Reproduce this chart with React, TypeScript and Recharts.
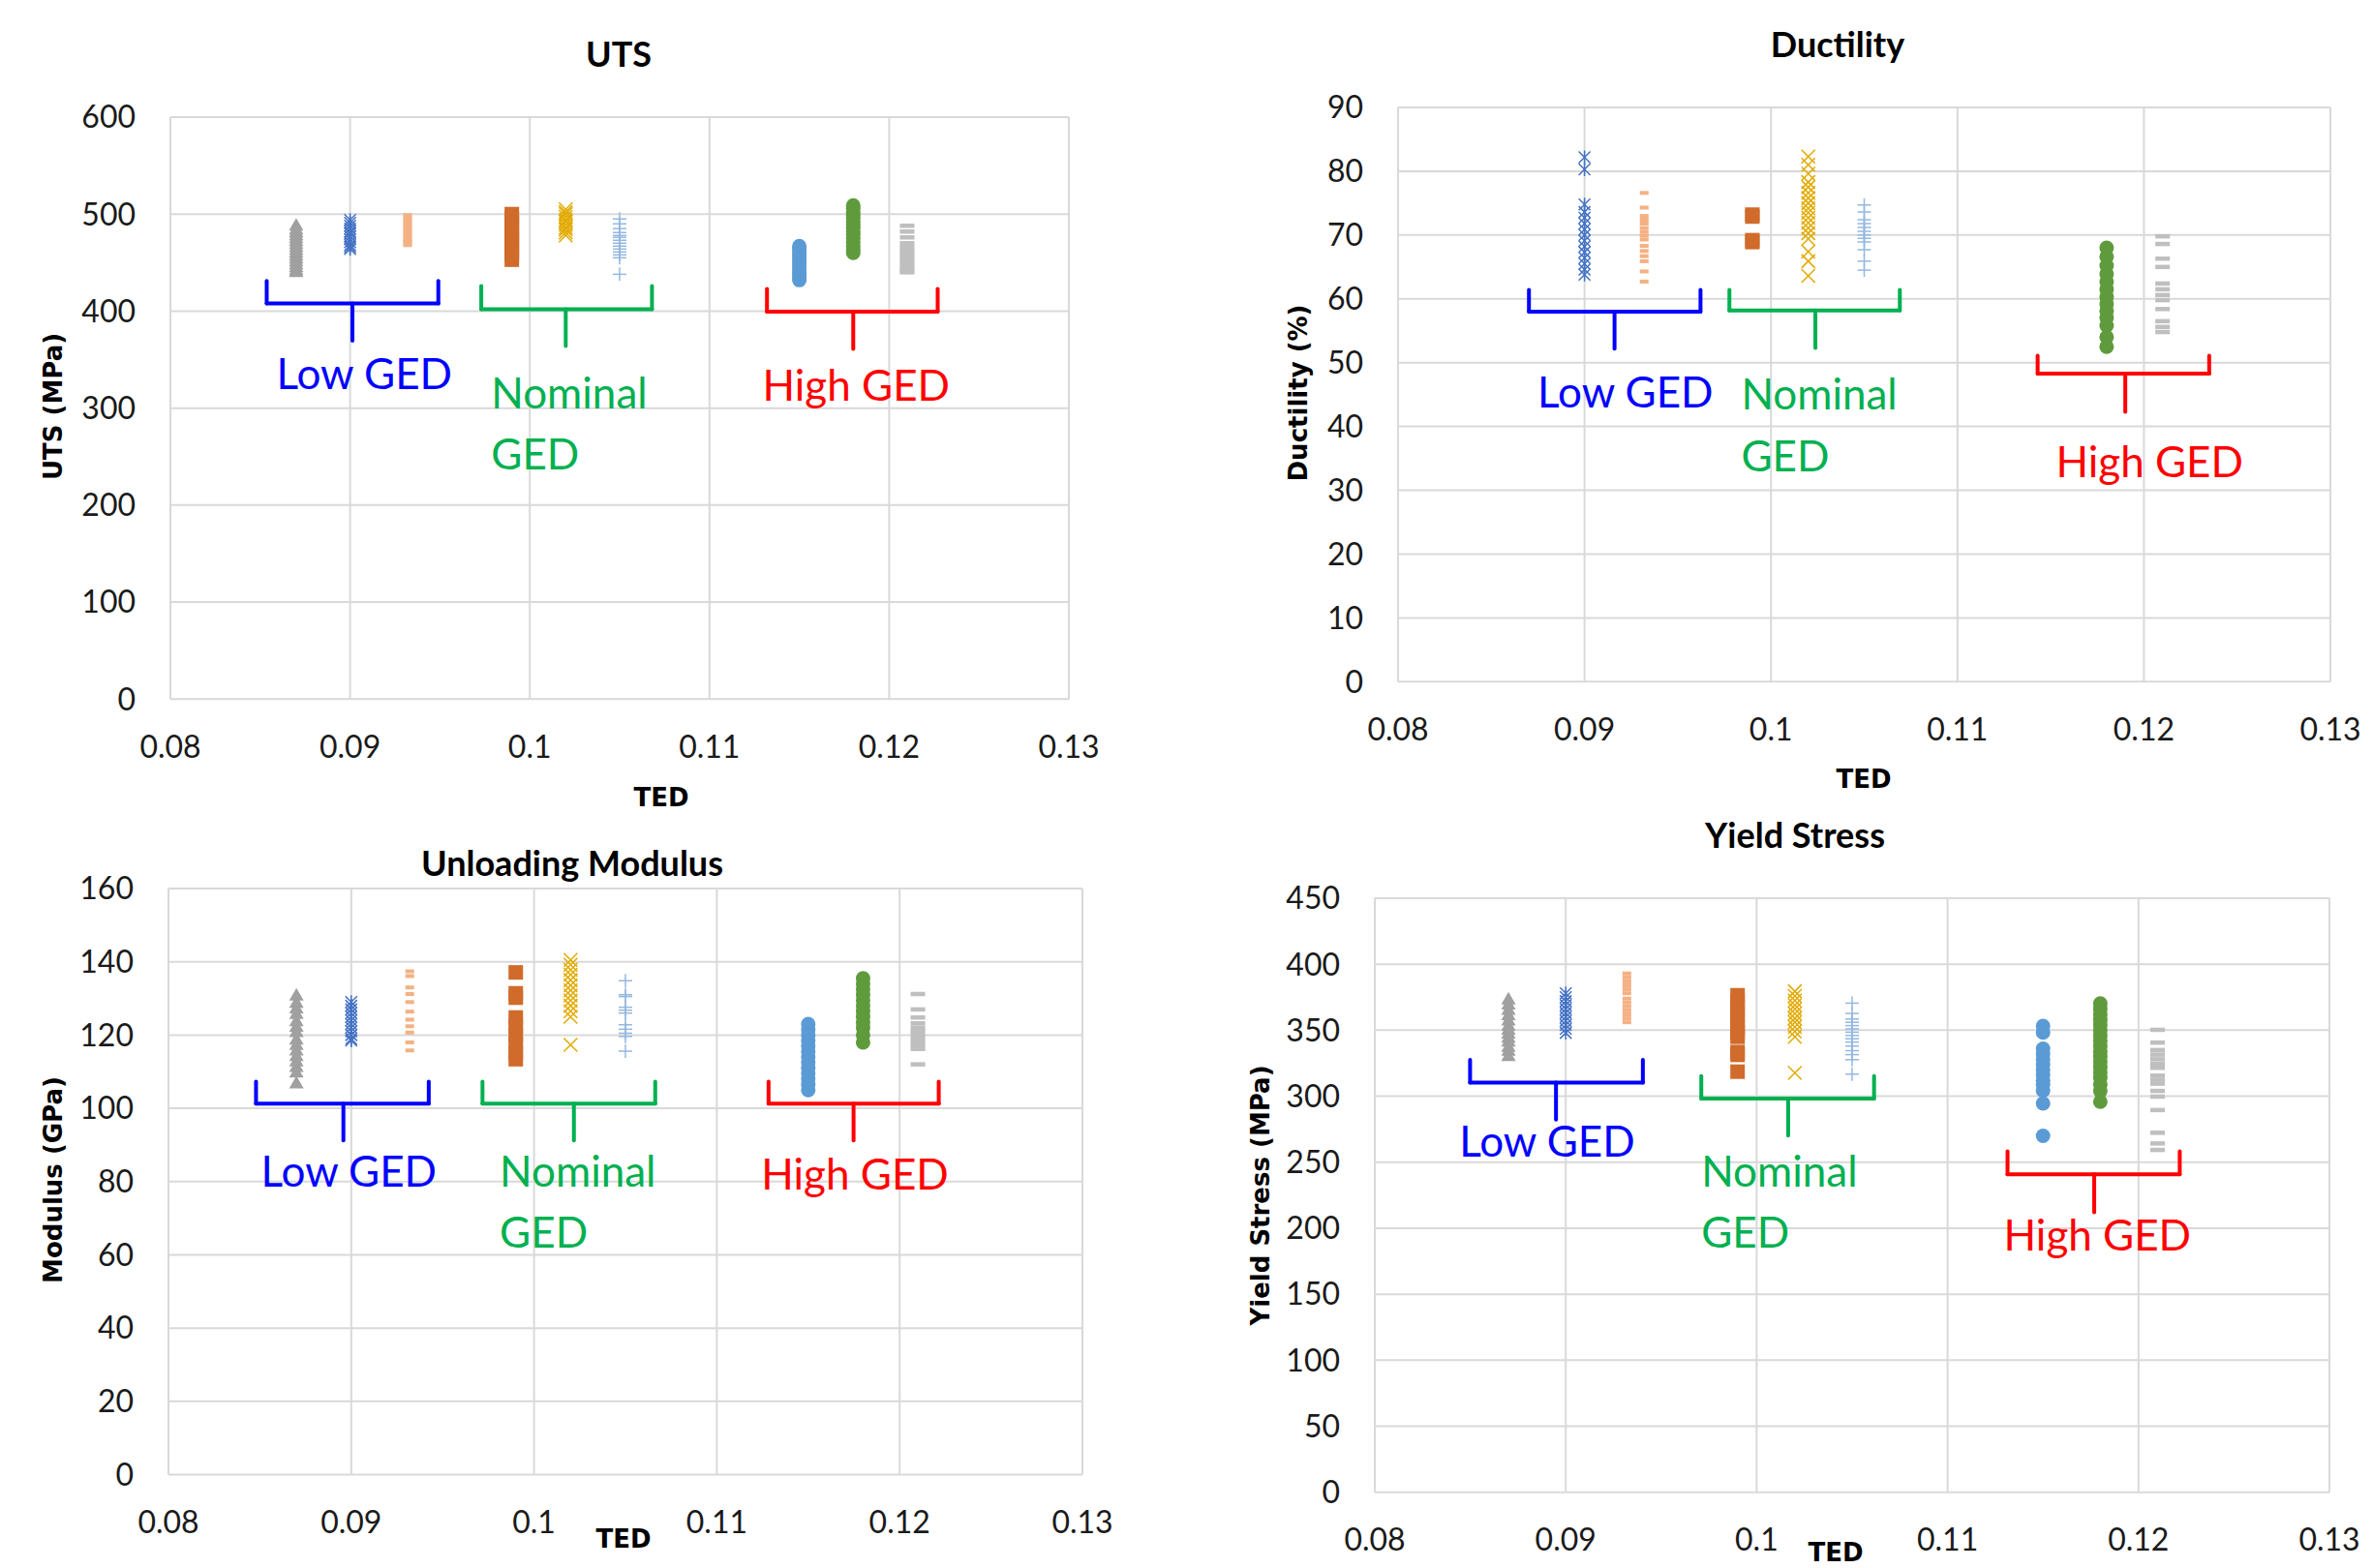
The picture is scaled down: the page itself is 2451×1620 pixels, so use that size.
import React from 'react';
import {
    ScatterChart,
    Scatter,
    XAxis,
    YAxis,
    CartesianGrid,
    ReferenceLine,
    ReferenceDot
} from 'recharts';

const X_TICKS = [0.08, 0.09, 0.1, 0.11, 0.12, 0.13];
// TED of each specimen column: low GED (3), nominal GED (3), high GED (3)
const SERIES_X = [0.087, 0.09, 0.0932, 0.099, 0.102, 0.105, 0.115, 0.118, 0.121];

// UTS (MPa)
const UTS_TICKS = [0, 100, 200, 300, 400, 500, 600];
const UTS_TRIANGLE = [489, 485, 482, 479, 476, 473, 470, 467, 464, 461, 458, 455, 452, 449, 446, 443, 441];
const UTS_STAR = [494, 491, 488, 485, 482, 480, 477, 474, 471, 468, 466, 464];
const UTS_SALMON = [499, 497, 494, 492, 489, 487, 484, 482, 479, 477, 474, 472, 470, 468];
const UTS_SQUARE = [500, 496, 491, 486, 481, 476, 472, 467, 462, 458, 453];
const UTS_GOLD = [505, 502, 500, 497, 494, 492, 489, 486, 484, 481, 478];
const UTS_PLUS = [495, 490, 485, 481, 478, 476, 473, 470, 467, 464, 461, 458, 455, 438];
const UTS_BLUE = [467, 464, 461, 458, 455, 452, 449, 446, 443, 440, 437, 434, 432];
const UTS_GREEN = [509, 506, 502, 499, 496, 492, 489, 486, 482, 479, 475, 471, 467, 463, 460];
const UTS_GRAY = [488, 482, 476, 470, 466, 463, 460, 457, 454, 451, 448, 445, 442, 440];

// Ductility (%)
const DUC_TICKS = [0, 10, 20, 30, 40, 50, 60, 70, 80, 90];
const DUC_STAR = [82.2, 80.3, 74.8, 73.6, 72.7, 71.8, 70.9, 70.0, 69.1, 68.2, 67.3, 66.4, 65.5, 64.6, 63.8];
const DUC_SALMON = [76.6, 74.3, 73.0, 72.4, 71.8, 71.1, 70.5, 69.9, 69.3, 68.3, 67.5, 66.7, 65.9, 64.3, 62.7];
const DUC_SQUARE = [73.2, 72.9, 69.2, 68.9];
const DUC_GOLD = [82.3, 81.0, 79.6, 78.3, 77.5, 76.6, 75.8, 75.0, 74.2, 73.5, 72.7, 71.9, 71.1, 70.3, 69.4, 67.4, 65.9, 63.6];
const DUC_PLUS = [74.7, 73.6, 72.4, 71.8, 71.2, 70.6, 70.0, 69.5, 68.9, 67.7, 65.9, 64.5];
const DUC_GREEN = [68.0, 66.6, 65.2, 63.9, 62.7, 61.5, 60.3, 59.2, 58.1, 57.0, 55.8, 54.0, 52.5];
const DUC_GRAY = [69.8, 68.6, 66.3, 65.0, 62.4, 61.5, 60.6, 59.8, 58.4, 56.5, 55.6, 54.8];

// Unloading modulus (GPa)
const MOD_TICKS = [0, 20, 40, 60, 80, 100, 120, 140, 160];
const MOD_TRIANGLE = [131, 129, 127.5, 126, 124, 122.5, 121, 119, 117.5, 116, 114.5, 113, 111.5, 110, 107];
const MOD_STAR = [129, 128, 127, 126, 125, 124, 123, 122, 121, 120, 119, 118.5];
const MOD_SALMON = [137.4, 136.1, 133, 131.2, 129, 126.4, 124.2, 122.4, 120.7, 118, 115.8];
const MOD_SQUARE = [137.1, 131.4, 130.2, 124.8, 122.4, 120.0, 117.6, 115.2, 113.4];
const MOD_GOLD = [140.5, 139.2, 137.8, 136.5, 135, 133.6, 132.2, 130.8, 129.4, 128, 126.5, 125, 117.3];
const MOD_PLUS = [134.8, 131.0, 130.5, 127.6, 126.8, 126.0, 122.8, 121.6, 120.5, 119.6, 115.6];
const MOD_BLUE = [123, 121.5, 120, 118.5, 117, 115.5, 114, 112.5, 111, 109.5, 108, 106.5, 105];
const MOD_GREEN = [135.5, 134, 132.5, 131, 129.5, 128, 126.5, 125, 123.5, 122, 120, 118];
const MOD_GRAY = [131.2, 127.0, 124.8, 123.2, 122.0, 121.0, 120.0, 119.0, 118.0, 117.0, 116.2, 112.0];

// Yield stress (MPa)
const YS_TICKS = [0, 50, 100, 150, 200, 250, 300, 350, 400, 450];
const YS_TRIANGLE = [374, 370, 366, 362, 358, 354, 351, 348, 345, 342, 338, 335, 331];
const YS_STAR = [378, 375, 372, 369, 366, 363, 360, 357, 354, 351, 348];
const YS_SALMON = [393, 390, 387, 384, 381, 378, 374, 371, 368, 365, 362, 359, 356];
const YS_SQUARE = [376.5, 372, 367, 362, 357, 352, 348, 345, 333.5, 331.3, 318.6];
const YS_GOLD = [379.5, 376, 372.5, 369, 366, 362.5, 359, 356, 352.5, 349, 345, 317.7];
const YS_PLUS = [370.5, 362.7, 358.5, 356, 353.5, 351, 348.5, 346, 343.5, 341, 338, 334.5, 331.5, 327.7, 316.7];
const YS_BLUE = [353.2, 348.3, 336, 332, 328, 324, 320, 316, 312, 309, 304.3, 294.5, 270];
const YS_GREEN = [370.3, 366, 362, 358, 354, 350, 346, 342, 338, 334, 330, 326, 322, 318, 314, 309, 304, 295.8];
const YS_GRAY = [350.3, 340.6, 335, 331.5, 328, 324.5, 321.5, 315.6, 312.5, 309.5, 304, 299.7, 289.5, 272.3, 264.2, 259.3];

// brace annotations: [left x, right x, stem x, tip y, bar y, stem end y]
const UTS_BRACES = [
    [0.08536, 0.09491, 0.09013, 431, 408, 369.5],
    [0.0973, 0.1068, 0.102, 426, 402, 364],
    [0.1132, 0.1227, 0.118, 423, 399.5, 361]
];
const DUC_BRACES = [
    [0.08702, 0.09622, 0.09161, 61.4, 58.0, 52.2],
    [0.09777, 0.10691, 0.10238, 61.4, 58.2, 52.3],
    [0.1143, 0.1235, 0.119, 51.1, 48.3, 42.3]
];
const MOD_BRACES = [
    [0.08479, 0.09424, 0.08957, 107.3, 101.3, 91.2],
    [0.09718, 0.10663, 0.10218, 107.3, 101.3, 91.2],
    [0.11283, 0.12214, 0.11748, 107.3, 101.3, 91.2]
];
const YS_BRACES = [
    [0.08499, 0.09404, 0.08949, 327.5, 310.4, 282.3],
    [0.0971, 0.10615, 0.10165, 315.3, 298.2, 270.1],
    [0.11314, 0.12216, 0.11768, 258.2, 240.9, 212.1]
];

// group labels: [text, group, left x, baseline y]
const UTS_LABELS = [
    ['Low GED', 0, 0.0859, 319.6],
    ['Nominal', 1, 0.09785, 299.6],
    ['GED', 1, 0.09785, 236.5],
    ['High GED', 2, 0.11295, 308]
];
const DUC_LABELS = [
    ['Low GED', 0, 0.08748, 43.0],
    ['Nominal', 1, 0.0984, 42.6],
    ['GED', 1, 0.0984, 33.0],
    ['High GED', 2, 0.11528, 32.1]
];
const MOD_LABELS = [
    ['Low GED', 0, 0.08506, 78.6],
    ['Nominal', 1, 0.09812, 78.6],
    ['GED', 1, 0.09812, 61.9],
    ['High GED', 2, 0.11243, 77.7]
];
const YS_LABELS = [
    ['Low GED', 0, 0.08442, 254.2],
    ['Nominal', 1, 0.0971, 231.5],
    ['GED', 1, 0.0971, 185.1],
    ['High GED', 2, 0.11294, 183.4]
];

const GROUP_COLORS = ['#0000FF', '#00B050', '#FF0000'];

const MARKERS = [
    { kind: 'triangle', color: '#A0A0A0' },
    { kind: 'star', color: '#4472C4' },
    { kind: 'dash', color: '#F4B183', w: 9, h: 4 },
    { kind: 'square', color: '#D06B2C' },
    { kind: 'cross', color: '#E2AA00' },
    { kind: 'plus', color: '#94B8E0' },
    { kind: 'circle', color: '#5B9BD5' },
    { kind: 'circle', color: '#5F9B3C' },
    { kind: 'dash', color: '#BFBFBF', w: 15, h: 4.5 }
];

function makeShape(m: any) {
    return (p: any) => {
        const { cx, cy } = p;
        if (cx == null || cy == null) return <g />;
        switch (m.kind) {
            case 'triangle':
                return <path d={`M${cx},${cy - 7}L${cx + 7.5},${cy + 6}L${cx - 7.5},${cy + 6}Z`} fill={m.color} />;
            case 'star':
                return (
                    <g stroke={m.color} strokeWidth={1.5}>
                        <line x1={cx - 6} y1={cy - 6} x2={cx + 6} y2={cy + 6} />
                        <line x1={cx - 6} y1={cy + 6} x2={cx + 6} y2={cy - 6} />
                        <line x1={cx} y1={cy - 7} x2={cx} y2={cy + 7} />
                    </g>
                );
            case 'dash':
                return <rect x={cx - m.w / 2} y={cy - m.h / 2} width={m.w} height={m.h} fill={m.color} />;
            case 'square':
                return <rect x={cx - 7.5} y={cy - 7.5} width={15} height={15} fill={m.color} />;
            case 'cross':
                return (
                    <g stroke={m.color} strokeWidth={1.5}>
                        <line x1={cx - 7} y1={cy - 7} x2={cx + 7} y2={cy + 7} />
                        <line x1={cx - 7} y1={cy + 7} x2={cx + 7} y2={cy - 7} />
                    </g>
                );
            case 'plus':
                return (
                    <g stroke={m.color} strokeWidth={1.5}>
                        <line x1={cx - 7} y1={cy} x2={cx + 7} y2={cy} />
                        <line x1={cx} y1={cy - 7} x2={cx} y2={cy + 7} />
                    </g>
                );
            default:
                return <circle cx={cx} cy={cy} r={7.5} fill={m.color} />;
        }
    };
}

const TICK = { fontSize: 32, fill: '#1a1a1a', fontFamily: 'Lato' };

interface PanelProps {
    box: number[]; // plot area: left, top, right, bottom (page px)
    yTicks: number[];
    series: (number[] | null)[];
    braces: number[][];
    labels: any[][];
}

function Panel({ box, yTicks, series, braces, labels }: PanelProps) {
    const [l, t, r, b] = box;
    const yw = 140, mt = 36, mr = 60, xh = 80;
    const width = r - l + yw + mr;
    const height = b - t + mt + xh;
    return (
        <div style={{ position: 'absolute', left: l - yw, top: t - mt }}>
            <ScatterChart width={width} height={height} margin={{ top: mt, right: mr, bottom: 0, left: 0 }}>
                <CartesianGrid stroke="#D9D9D9" strokeWidth={2} />
                <XAxis
                    type="number"
                    dataKey="x"
                    domain={[0.08, 0.13]}
                    ticks={X_TICKS}
                    interval={0}
                    height={xh}
                    axisLine={false}
                    tickLine={false}
                    tickMargin={32}
                    tick={TICK}
                    allowDataOverflow
                />
                <YAxis
                    type="number"
                    dataKey="y"
                    domain={[0, yTicks[yTicks.length - 1]]}
                    ticks={yTicks}
                    interval={0}
                    width={yw}
                    axisLine={false}
                    tickLine={false}
                    tickMargin={30}
                    tick={TICK}
                />
                {series.map((ys, i) =>
                    ys ? (
                        <Scatter
                            key={`s-${i}`}
                            data={ys.map((y) => ({ x: SERIES_X[i], y }))}
                            shape={makeShape(MARKERS[i])}
                            isAnimationActive={false}
                        />
                    ) : null
                )}
                {braces.map(([x1, x2, xm, yTip, yBar, yEnd], i) => {
                    const c = GROUP_COLORS[i];
                    const segs = [
                        [[x1, yTip], [x1, yBar]],
                        [[x1, yBar], [x2, yBar]],
                        [[x2, yBar], [x2, yTip]],
                        [[xm, yBar], [xm, yEnd]]
                    ];
                    return segs.map((s, j) => (
                        <ReferenceLine
                            key={`b-${i}-${j}`}
                            segment={[{ x: s[0][0], y: s[0][1] }, { x: s[1][0], y: s[1][1] }]}
                            stroke={c}
                            strokeWidth={4}
                            strokeLinecap="round"
                            ifOverflow="visible"
                        />
                    ));
                })}
                {labels.map(([text, g, x, y], i) => (
                    <ReferenceDot
                        key={`l-${i}`}
                        x={x}
                        y={y}
                        ifOverflow="visible"
                        shape={(p: any) => (
                            <text x={p.cx} y={p.cy} fill={GROUP_COLORS[g]} fontSize={44} fontFamily="Lato">
                                {text}
                            </text>
                        )}
                    />
                ))}
            </ScatterChart>
        </div>
    );
}

function Caption({ text, x, y, size, weight, font, rotate }: any) {
    return (
        <div
            style={{
                position: 'absolute',
                left: x,
                top: y,
                transform: `translate(-50%, -50%)${rotate ? ' rotate(-90deg)' : ''}`,
                fontSize: size,
                fontWeight: weight,
                fontFamily: font,
                lineHeight: 1,
                whiteSpace: 'nowrap',
                color: '#000'
            }}
        >
            {text}
        </div>
    );
}

const TITLES = [
    ['UTS', 639, 55],
    ['Ductility', 1898, 45],
    ['Unloading Modulus', 591, 891],
    ['Yield Stress', 1854, 862]
];
const Y_TITLES = [
    ['UTS (MPa)', 55, 420],
    ['Ductility (%)', 1341, 406],
    ['Modulus (GPa)', 55, 1219],
    ['Yield Stress (MPa)', 1302, 1235]
];
const X_TITLES = [
    ['TED', 683, 824],
    ['TED', 1925, 805],
    ['TED', 644, 1590],
    ['TED', 1896, 1604]
];

export default function App() {
    return (
        <div style={{ position: 'absolute', left: 0, top: 0, width: 2451, height: 1620, overflow: 'hidden', background: '#fff' }}>
            <Panel
                box={[176, 120.7, 1104, 722]}
                yTicks={UTS_TICKS}
                series={[UTS_TRIANGLE, UTS_STAR, UTS_SALMON, UTS_SQUARE, UTS_GOLD, UTS_PLUS, UTS_BLUE, UTS_GREEN, UTS_GRAY]}
                braces={UTS_BRACES}
                labels={UTS_LABELS}
            />
            <Panel
                box={[1443.5, 110.7, 2406.5, 704]}
                yTicks={DUC_TICKS}
                series={[null, DUC_STAR, DUC_SALMON, DUC_SQUARE, DUC_GOLD, DUC_PLUS, null, DUC_GREEN, DUC_GRAY]}
                braces={DUC_BRACES}
                labels={DUC_LABELS}
            />
            <Panel
                box={[174, 918, 1118, 1523.5]}
                yTicks={MOD_TICKS}
                series={[MOD_TRIANGLE, MOD_STAR, MOD_SALMON, MOD_SQUARE, MOD_GOLD, MOD_PLUS, MOD_BLUE, MOD_GREEN, MOD_GRAY]}
                braces={MOD_BRACES}
                labels={MOD_LABELS}
            />
            <Panel
                box={[1420, 928, 2406, 1541.7]}
                yTicks={YS_TICKS}
                series={[YS_TRIANGLE, YS_STAR, YS_SALMON, YS_SQUARE, YS_GOLD, YS_PLUS, YS_BLUE, YS_GREEN, YS_GRAY]}
                braces={YS_BRACES}
                labels={YS_LABELS}
            />
            {TITLES.map(([text, x, y], i) => (
                <Caption key={`t-${i}`} text={text} x={x} y={y} size={36} weight={700} font="Lato" />
            ))}
            {Y_TITLES.map(([text, x, y], i) => (
                <Caption key={`y-${i}`} text={text} x={x} y={y} size={26} weight={700} font="DejaVu Sans" rotate />
            ))}
            {X_TITLES.map(([text, x, y], i) => (
                <Caption key={`x-${i}`} text={text} x={x} y={y} size={26} weight={700} font="DejaVu Sans" />
            ))}
        </div>
    );
}
